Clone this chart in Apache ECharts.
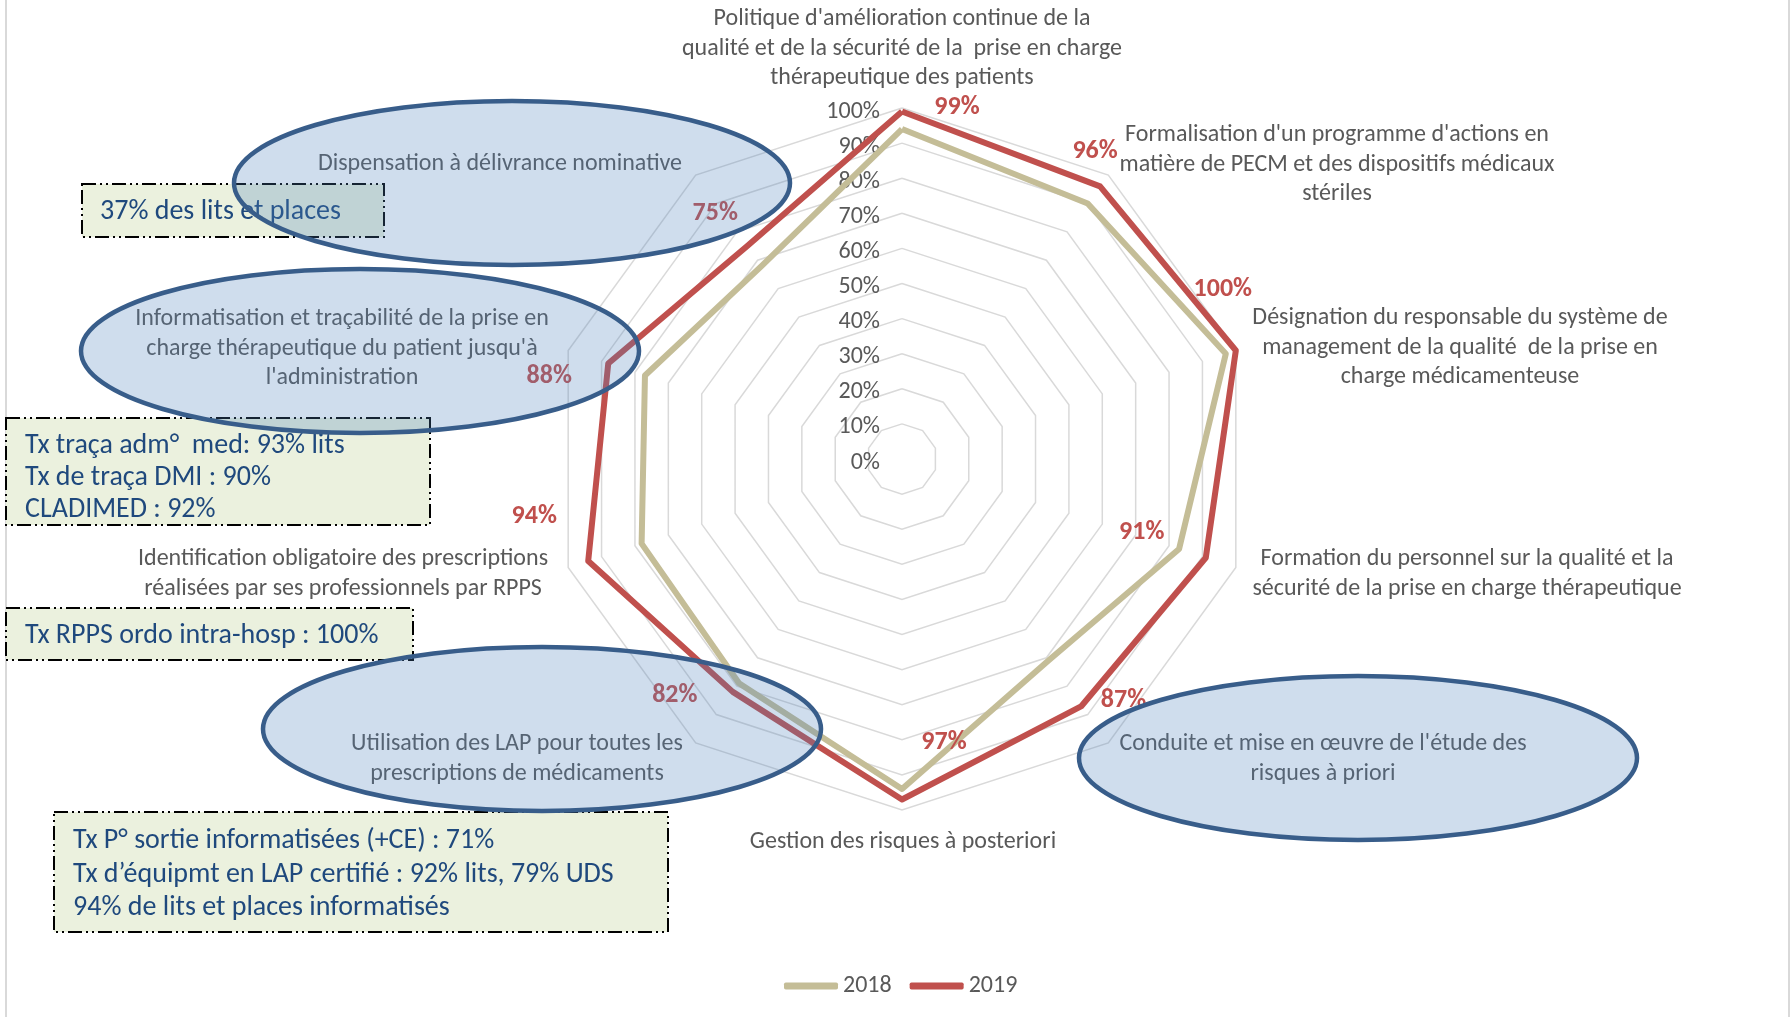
<!DOCTYPE html>
<html><head><meta charset="utf-8">
<script src="https://cdn.jsdelivr.net/npm/echarts@6/dist/echarts.min.js"></script>
<style>html,body{margin:0;padding:0;background:#fff}#c{width:1790px;height:1017px}</style>
</head><body><div id="c"></div>
<script>
// ---------- DATA ----------
const indicatorNames = [
  "Politique d'amélioration continue de la\nqualité et de la sécurité de la  prise en charge\nthérapeutique des patients",
  "Formalisation d'un programme d'actions en\nmatière de PECM et des dispositifs médicaux\nstériles",
  "Désignation du responsable du système de\nmanagement de la qualité  de la prise en\ncharge médicamenteuse",
  "Formation du personnel sur la qualité et la\nsécurité de la prise en charge thérapeutique",
  "Conduite et mise en œuvre de l'étude des\nrisques à priori",
  "Gestion des risques à posteriori",
  "Utilisation des LAP pour toutes les\nprescriptions de médicaments",
  "Identification obligatoire des prescriptions\nréalisées par ses professionnels par RPPS",
  "Informatisation et traçabilité de la prise en\ncharge thérapeutique du patient jusqu'à\nl'administration",
  "Dispensation à délivrance nominative"
];
const values2018 = [94, 90, 97, 83, 71, 94, 79, 78, 77, 68];
const values2019 = [99, 96, 100, 91, 87, 97, 82, 94, 88, 75];
const seriesNames = ["2018", "2019"];
const axisMin = 0, axisMax = 100, axisStep = 10;
const highlighted = [9, 8, 6, 4];
const notes = [
  ["37% des lits et places"],
  ["Tx traça adm°  med: 93% lits", "Tx de traça DMI : 90%", "CLADIMED : 92%"],
  ["Tx RPPS ordo intra-hosp : 100%"],
  ["Tx P° sortie informatisées (+CE) : 71%", "Tx d’équipmt en LAP certifié : 92% lits, 79% UDS", "94% de lits et places informatisés"]
];

// ---------- LAYOUT / STYLE ----------
const FONT = "Carlito, Calibri, Lato, sans-serif";
const C2018 = '#C4BD97', C2019 = '#C0504D', TXT = '#595959';
const CX = 902, CY = 459, R = 351;
// ECharts places indicators counter-clockwise: reorder so they appear clockwise
const ord = indicatorNames.map((_, i) => (indicatorNames.length - i) % indicatorNames.length);
const nameLayout = [[902,19],[1337,135],[1460,318],[1467,559],[1323,744],[903,842],[517,744],[343,559],[342,319],[500,164]];
const labelOffsets = [[55,-4],[-5,-35],[-13,-61],[-64,-25],[42,-6],[42,-57],[-58,4],[-54,-44],[-59,13],[-32,-33]];
const ellipseLayout = {9:[512,183,278,82], 8:[360,351,279,82], 6:[542,729,279,82], 4:[1358,758,279,82]};
const boxLayout = [
  {x:82, y:184, w:302, h:53, tx:100, ty:212, lh:32},
  {x:6, y:418, w:424, h:107, tx:25, ty:446, lh:32},
  {x:6, y:608, w:407, h:52, tx:25, ty:636, lh:32},
  {x:54, y:812, w:614, h:120, tx:73, ty:841, lh:33.5}
];

const reorder = arr => ord.map(k => arr[k]);

const graphics = [];
// frame lines
graphics.push({type:'line', z:1, shape:{x1:6,y1:0,x2:6,y2:1017}, style:{stroke:'#D9D9D9', lineWidth:2}});
graphics.push({type:'line', z:1, shape:{x1:1789,y1:0,x2:1789,y2:1017}, style:{stroke:'#D9D9D9', lineWidth:2}});
// axis names
indicatorNames.forEach((n, k) => {
  const [x, y] = nameLayout[k];
  graphics.push({type:'text', z:3, x: x, y: y - 14.75,
    style:{text:n, fill:TXT, font:'24px ' + FONT, align:'center', verticalAlign:'top', lineHeight:29.5}});
});
// note boxes
notes.forEach((lines, i) => {
  const b = boxLayout[i];
  graphics.push({type:'rect', z:5, shape:{x:b.x, y:b.y, width:b.w, height:b.h},
    style:{fill:'#EBF1DE', stroke:'#000', lineWidth:2, lineDash:[14,4,2,4,2,4]}});
  graphics.push({type:'text', z:6, x:b.tx, y:b.ty - b.lh/2,
    style:{text:lines.join('\n'), fill:'#1F497D', font:'28px ' + FONT, align:'left', verticalAlign:'top', lineHeight:b.lh}});
});
// ellipses around highlighted indicators
highlighted.forEach(k => {
  const e = ellipseLayout[k];
  graphics.push({type:'ellipse', z:10, shape:{cx:e[0], cy:e[1], rx:e[2], ry:e[3]},
    style:{fill:'rgba(79,129,189,0.27)', stroke:'#385D8A', lineWidth:4.5}});
});

// label carriers: one per indicator, shows only its own value
const carriers = indicatorNames.map((_, k) => ({
  name: 'lbl' + k,
  value: reorder(values2019),
  symbol: 'circle', symbolSize: 1,
  itemStyle: {color: 'rgba(0,0,0,0)'},
  lineStyle: {width: 0, opacity: 0},
  label: {
    show: true, position: 'inside', offset: labelOffsets[k],
    color: C2019, fontSize: 26, fontWeight: 'bold', fontFamily: FONT,
    formatter: p => (p.value === values2019[k] ? p.value + '%' : '')
  }
}));

const chart = echarts.init(document.getElementById('c'), null, {renderer:'canvas'});
chart.setOption({
  backgroundColor: '#fff',
  animation: false,
  legend: {
    data: seriesNames, top: 969, left: 779,
    icon: 'roundRect', itemWidth: 54, itemHeight: 7, itemGap: 18,
    textStyle: {color: TXT, fontSize: 24, fontFamily: FONT}
  },
  radar: {
    center: [CX, CY], radius: R, startAngle: 90, splitNumber: (axisMax - axisMin) / axisStep,
    shape: 'polygon',
    indicator: reorder(indicatorNames).map((n, i) => {
      const o = {name: n, min: axisMin, max: axisMax};
      if (i === 0) o.axisLabel = {show: true};
      return o;
    }),
    axisName: {show: false},
    axisLine: {show: false},
    axisTick: {show: false},
    splitArea: {show: false},
    splitLine: {lineStyle: {color: '#D9D9D9', width: 1.5}},
    axisLabel: {
      show: false, formatter: '{t|{value}%}', margin: 22,
      rich: {t: {color: TXT, fontSize: 24, fontFamily: FONT, padding: [7, 0, 0, 0]}}
    }
  },
  series: [{
    type: 'radar',
    z: 2,
    data: [
      {name: seriesNames[0], value: reorder(values2018), symbol: 'none',
       lineStyle: {color: C2018, width: 6}, itemStyle: {color: C2018}},
      {name: seriesNames[1], value: reorder(values2019), symbol: 'none',
       lineStyle: {color: C2019, width: 6}, itemStyle: {color: C2019}}
    ].concat(carriers)
  }],
  graphic: {elements: graphics}
});
</script>
</body></html>
